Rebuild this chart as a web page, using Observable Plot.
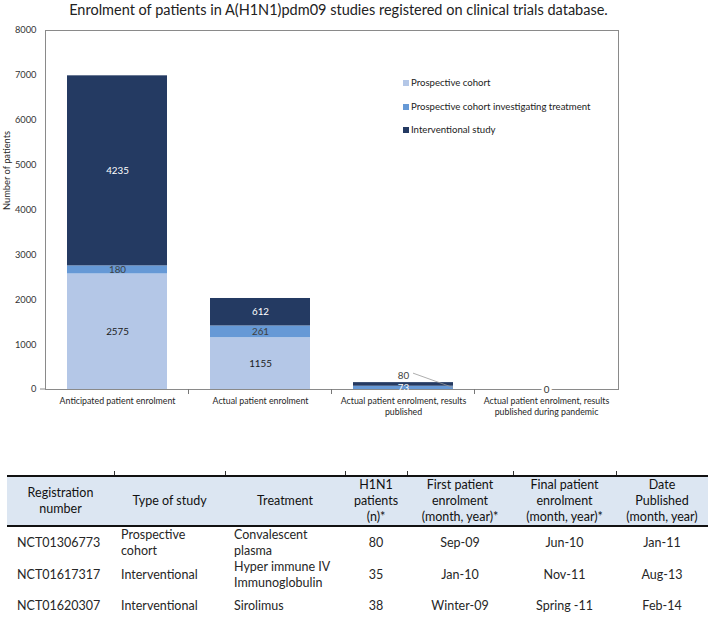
<!DOCTYPE html>
<html>
<head>
<meta charset="utf-8">
<script src="https://cdn.jsdelivr.net/npm/d3@7"></script>
<script src="https://cdn.jsdelivr.net/npm/@observablehq/plot@0.6"></script>
<style>
  body { margin: 0; background: #fff; font-family: Lato, "Noto Sans", sans-serif; }
  #wrap { position: relative; width: 709px; height: 620px; overflow: hidden; background: #fff; }
  #title { height: 22px; line-height: 20px; font-size: 14.5px; color: #222; text-align: center; padding-right: 32px; white-space: nowrap; }
  #chart svg { display: block; }
  .leg-item { position: absolute; left: 403px; font-size: 9.6px; color: #222; white-space: nowrap; height: 12px; line-height: 12px; }
  .leg-item span.sw { position: absolute; left: 0; top: 3px; width: 6px; height: 6px; }
  .leg-item span.tx { position: absolute; left: 8px; top: 0; }
  table { position: absolute; left: 7px; top: 475px; width: 701px; border-collapse: collapse; table-layout: fixed; font-size: 12.5px; color: #262626; }
  thead tr { background: #dce6f2; }
  th { font-weight: normal; color: #111; text-align: center; vertical-align: middle; line-height: 16px; height: 46px; padding: 0 1px; border-top: 2px solid #111; border-bottom: 2px solid #111; position: relative; }
  th:not(:first-child)::before { content: ""; position: absolute; left: 0; top: -6px; height: 4px; border-left: 1px solid #333; }
  td { vertical-align: middle; line-height: 16px; padding: 0 1px; position: relative; white-space: nowrap; }
  tbody tr:last-child td { border-bottom: 2px solid #111; }
  tbody tr:last-child td:not(:first-child)::after { content: ""; position: absolute; left: 0; bottom: -6px; height: 4px; border-left: 1px solid #333; }
  td.l1 { padding-left: 10px; }
  td.l2 { padding-left: 7px; }
  td.l3 { padding-left: 9px; }
  td.c { text-align: center; }
</style>
</head>
<body>
<div id="wrap">
  <div id="title"></div>
  <div id="chart"></div>
  <div id="legend"></div>
  <table id="tbl"></table>
</div>
<script>
// ---------- chart data ----------
const chartTitle = "Enrolment of patients in A(H1N1)pdm09 studies registered on clinical trials database.";
const yAxisLabel = "Number of patients";
const categories = [
  "Anticipated patient enrolment",
  "Actual patient enrolment",
  "Actual patient enrolment, results published",
  "Actual patient enrolment, results published during pandemic"
];
const xTickLabels = [
  "Anticipated patient enrolment",
  "Actual patient enrolment",
  "Actual patient enrolment, results\npublished",
  "Actual patient enrolment, results\npublished during pandemic"
];
const series = ["Prospective cohort", "Prospective cohort investigating treatment", "Interventional study"];
const prospectiveCohort = [2575, 1155, 0, 0];
const prospectiveTreatment = [180, 261, 73, 0];
const interventional = [4235, 612, 80, 0];
const seriesColors = ["#b4c7e7", "#6699d6", "#243a62"];
const yTicks = [0, 1000, 2000, 3000, 4000, 5000, 6000, 7000, 8000];

// ---------- table data ----------
const tableHeaders = [
  "Registration<br>number",
  "Type of study",
  "Treatment",
  "H1N1<br>patients<br>(n)*",
  "First patient<br>enrolment<br>(month, year)*",
  "Final patient<br>enrolment<br>(month, year)*",
  "Date<br>Published<br>(month, year)"
];
const registrationNumbers = ["NCT01306773", "NCT01617317", "NCT01620307"];
const studyTypes = ["Prospective<br>cohort", "Interventional", "Interventional"];
const treatments = ["Convalescent<br>plasma", "Hyper immune IV<br>Immunoglobulin", "Sirolimus"];
const h1n1Patients = [80, 35, 38];
const firstEnrolment = ["Sep-09", "Jan-10", "Winter-09"];
const finalEnrolment = ["Jun-10", "Nov-11", "Spring -11"];
const datePublished = ["Jan-11", "Aug-13", "Feb-14"];

// ---------- build tables ----------
const seriesValues = [prospectiveCohort, prospectiveTreatment, interventional];
const rows = [];
categories.forEach((c, i) => {
  let base = 0;
  series.forEach((s, j) => {
    const v = seriesValues[j][i];
    rows.push({category: c, series: s, idx: j, value: v, y1: base, y2: base + v, mid: base + v / 2});
    base += v;
  });
});
const totals = categories.map((c, i) => seriesValues.reduce((a, arr) => a + arr[i], 0));
const insideLabels = rows.filter(r => r.value > 0 && !(r.idx === 2 && r.value < 100));
const callouts = rows.filter(r => r.idx === 2 && r.value > 0 && r.value < 100)
  .map(r => ({...r, total: totals[categories.indexOf(r.category)]}));
const zeroCats = categories.filter((c, i) => totals[i] === 0);

function labelColor(r) {
  if (r.idx === 2) return "#ffffff";
  if (r.idx === 1) return r.value < 100 ? "#ffffff" : "#404040";
  return "#1a1a1a";
}

function extrasMark(index, scales, values, dimensions) {
  const g = d3.create("svg:g");
  try {
    const x = scales.x, y = scales.y;
    const sx = scales.scales && scales.scales.x;
    const xs = v => (typeof x === "function" ? x(v) : sx.apply(v));
    const ys = v => (typeof y === "function" ? y(v) : scales.scales.y.apply(v));
    const bw = (x && typeof x.bandwidth === "function") ? x.bandwidth() : sx.bandwidth;
    const step = (x && typeof x.step === "function") ? x.step() : sx.step;
    const y0 = ys(0);
    const left = dimensions.marginLeft;
    g.append("line").attr("x1", left - 5).attr("x2", left).attr("y1", y0).attr("y2", y0)
      .attr("stroke", "#8a8a8a");
    categories.slice(0, -1).forEach(c => {
      const bx = xs(c) + bw + (step - bw) / 2;
      g.append("line").attr("x1", bx).attr("x2", bx).attr("y1", y0).attr("y2", y0 + 5)
        .attr("stroke", "#777").attr("stroke-width", 1);
    });
    callouts.forEach(r => {
      const cx = xs(r.category) + bw / 2;
      g.append("line")
        .attr("x1", cx + 10).attr("y1", ys(r.total) - 9)
        .attr("x2", cx + bw / 2).attr("y2", y0 - 1.5)
        .attr("stroke", "#999").attr("stroke-width", 0.8);
    });
  } catch (e) { console.error(e); }
  return g.node();
}

document.getElementById("title").textContent = chartTitle;

const chart = Plot.plot({
  width: 709,
  height: 405,
  marginLeft: 45,
  marginRight: 91,
  marginTop: 8,
  marginBottom: 38,
  style: {fontFamily: "Lato, 'Noto Sans', sans-serif", fontSize: "9.3px", color: "#333", background: "white"},
  x: {domain: categories, paddingInner: 0.3, paddingOuter: 0.15, axis: null},
  y: {domain: [0, 8000], ticks: yTicks, tickSize: 0, tickPadding: 9, tickFormat: d => String(d), label: null},
  color: {domain: series, range: seriesColors},
  marks: [
    Plot.barY(rows.filter(r => r.value > 0), {x: "category", y1: "y1", y2: "y2", fill: "series"}),
    Plot.frame({stroke: "#8a8a8a"}),
    extrasMark,
    Plot.text(insideLabels, {x: "category", y: "mid", text: d => String(d.value), fill: labelColor, fontSize: 9.8}),
    Plot.text(callouts, {x: "category", y: "total", text: d => String(d.value), dy: -7, fill: "#404040", fontSize: 9.8}),
    Plot.text(zeroCats, {x: d => d, y: () => 0, text: () => "0", fill: "#333", stroke: "white", strokeWidth: 5, paintOrder: "stroke", fontSize: 9.8}),
    Plot.text(categories, {x: d => d, y: () => 0, text: (d, i) => xTickLabels[i], lineAnchor: "top", dy: 6, lineHeight: 1.3, fill: "#262626", fontSize: 8.8}),
    Plot.text([yAxisLabel], {frameAnchor: "left", text: d => d, rotate: -90, dx: -38, fill: "#262626", fontSize: 9.3})
  ]
});
document.getElementById("chart").appendChild(chart);

// legend (inside the plot area)
const legendY = [83, 107, 130];
const legend = document.getElementById("legend");
series.forEach((s, i) => {
  const item = document.createElement("div");
  item.className = "leg-item";
  item.style.top = (legendY[i] - 6) + "px";
  item.innerHTML = `<span class="sw" style="background:${seriesColors[i]}"></span><span class="tx">${s}</span>`;
  legend.appendChild(item);
});

// table
const colWidths = [107, 111, 120, 62, 106, 103, 92];
const rowHeights = [31, 31, 30];
const tbl = document.getElementById("tbl");
let html = "<colgroup>" + colWidths.map(w => `<col style="width:${w}px">`).join("") + "</colgroup>";
html += "<thead><tr>" + tableHeaders.map(h => `<th>${h}</th>`).join("") + "</tr></thead><tbody>";
registrationNumbers.forEach((r, i) => {
  html += `<tr style="height:${rowHeights[i]}px">` +
    `<td class="l1">${r}</td><td class="l2">${studyTypes[i]}</td><td class="l3">${treatments[i]}</td>` +
    `<td class="c">${h1n1Patients[i]}</td><td class="c">${firstEnrolment[i]}</td>` +
    `<td class="c">${finalEnrolment[i]}</td><td class="c">${datePublished[i]}</td></tr>`;
});
html += "</tbody>";
tbl.innerHTML = html;
</script>
</body>
</html>
